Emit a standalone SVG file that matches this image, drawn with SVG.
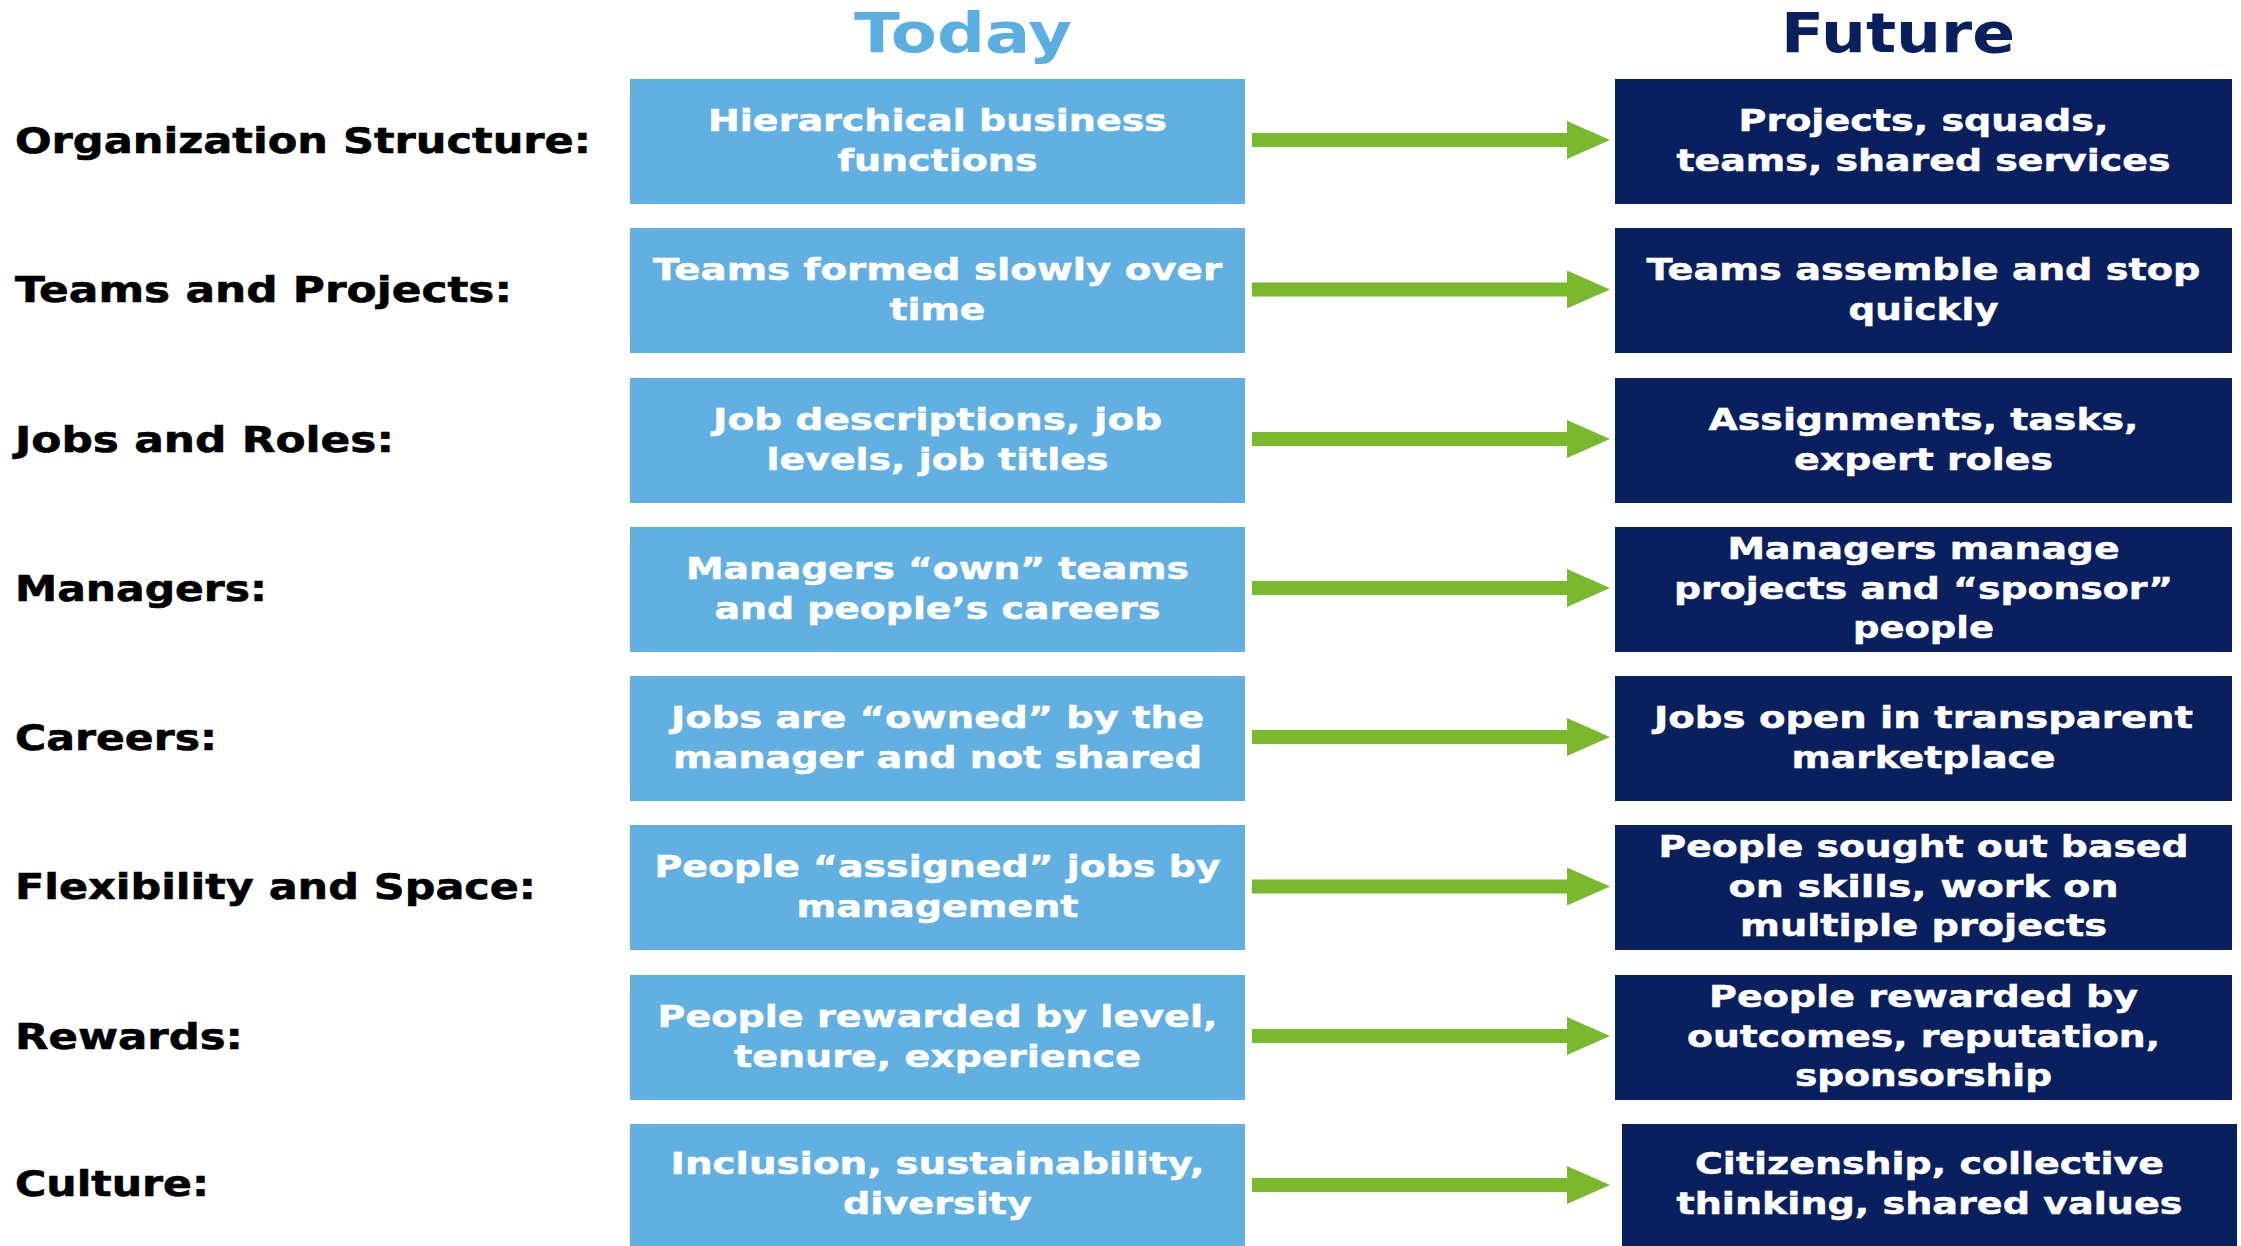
<svg xmlns="http://www.w3.org/2000/svg" width="2241" height="1246" viewBox="0 0 2241 1246">
<defs>
<style>
.lbl{font-family:"DejaVu Sans","Liberation Sans",sans-serif;font-weight:bold;font-size:36px;fill:#000;stroke:#000;stroke-width:0.6px}
.t{font-family:"DejaVu Sans","Liberation Sans",sans-serif;font-weight:bold;font-size:31px;fill:#fff;stroke:#fff;stroke-width:0.5px;text-anchor:middle}
.today{fill:#62B0E2}
.future{fill:#0A1F5E}
.title{font-family:"DejaVu Sans","Liberation Sans",sans-serif;font-weight:bold;font-size:55px;text-anchor:middle}
.arr{stroke:#7AB82D;stroke-width:14;fill:none}
</style>
<marker id="ah" markerUnits="userSpaceOnUse" markerWidth="43" markerHeight="38" viewBox="0 0 43 38" refX="0" refY="19" orient="auto">
<path d="M0,0 L43,19 L0,38 Z" fill="#7AB82D"/>
</marker>
</defs>
<rect width="2241" height="1246" fill="#fff"/>
<g id="titles">
<text class="title" x="963" y="52" fill="#5AAEE0" textLength="218" lengthAdjust="spacingAndGlyphs">Today</text>
<text class="title" x="1898" y="52" fill="#0A1F5E" textLength="234" lengthAdjust="spacingAndGlyphs">Future</text>
</g>
<g id="labels">
<text class="lbl" x="15" y="153" textLength="576" lengthAdjust="spacingAndGlyphs">Organization Structure:</text>
<text class="lbl" x="15" y="302" textLength="497" lengthAdjust="spacingAndGlyphs">Teams and Projects:</text>
<text class="lbl" x="15" y="452" textLength="379" lengthAdjust="spacingAndGlyphs">Jobs and Roles:</text>
<text class="lbl" x="15" y="601" textLength="252" lengthAdjust="spacingAndGlyphs">Managers:</text>
<text class="lbl" x="15" y="750" textLength="202" lengthAdjust="spacingAndGlyphs">Careers:</text>
<text class="lbl" x="15" y="899" textLength="521" lengthAdjust="spacingAndGlyphs">Flexibility and Space:</text>
<text class="lbl" x="15" y="1049" textLength="228" lengthAdjust="spacingAndGlyphs">Rewards:</text>
<text class="lbl" x="15" y="1196" textLength="194" lengthAdjust="spacingAndGlyphs">Culture:</text>
</g>
<g id="today-1"><rect class="today" x="630" y="79" width="615" height="125"/>
<text class="t" x="937.5" y="131" textLength="459" lengthAdjust="spacingAndGlyphs">Hierarchical business</text>
<text class="t" x="937.5" y="171" textLength="200" lengthAdjust="spacingAndGlyphs">functions</text></g>
<g id="today-2"><rect class="today" x="630" y="228" width="615" height="125"/>
<text class="t" x="937.5" y="280" textLength="569" lengthAdjust="spacingAndGlyphs">Teams formed slowly over</text>
<text class="t" x="937.5" y="320" textLength="96" lengthAdjust="spacingAndGlyphs">time</text></g>
<g id="today-3"><rect class="today" x="630" y="378" width="615" height="125"/>
<text class="t" x="937.5" y="430" textLength="449" lengthAdjust="spacingAndGlyphs">Job descriptions, job</text>
<text class="t" x="937.5" y="470" textLength="342" lengthAdjust="spacingAndGlyphs">levels, job titles</text></g>
<g id="today-4"><rect class="today" x="630" y="527" width="615" height="125"/>
<text class="t" x="937.5" y="579" textLength="503" lengthAdjust="spacingAndGlyphs">Managers “own” teams</text>
<text class="t" x="937.5" y="619" textLength="446" lengthAdjust="spacingAndGlyphs">and people’s careers</text></g>
<g id="today-5"><rect class="today" x="630" y="676" width="615" height="125"/>
<text class="t" x="937.5" y="728" textLength="533" lengthAdjust="spacingAndGlyphs">Jobs are “owned” by the</text>
<text class="t" x="937.5" y="768" textLength="529" lengthAdjust="spacingAndGlyphs">manager and not shared</text></g>
<g id="today-6"><rect class="today" x="630" y="825" width="615" height="125"/>
<text class="t" x="937.5" y="877" textLength="566" lengthAdjust="spacingAndGlyphs">People “assigned” jobs by</text>
<text class="t" x="937.5" y="917" textLength="282" lengthAdjust="spacingAndGlyphs">management</text></g>
<g id="today-7"><rect class="today" x="630" y="975" width="615" height="125"/>
<text class="t" x="937.5" y="1027" textLength="560" lengthAdjust="spacingAndGlyphs">People rewarded by level,</text>
<text class="t" x="937.5" y="1067" textLength="407" lengthAdjust="spacingAndGlyphs">tenure, experience</text></g>
<g id="today-8"><rect class="today" x="630" y="1124" width="615" height="122"/>
<text class="t" x="937.5" y="1174" textLength="534" lengthAdjust="spacingAndGlyphs">Inclusion, sustainability,</text>
<text class="t" x="937.5" y="1214" textLength="189" lengthAdjust="spacingAndGlyphs">diversity</text></g>
<g id="future-1"><rect class="future" x="1615" y="79" width="617" height="125"/>
<text class="t" x="1923.5" y="131" textLength="370" lengthAdjust="spacingAndGlyphs">Projects, squads,</text>
<text class="t" x="1923.5" y="171" textLength="494" lengthAdjust="spacingAndGlyphs">teams, shared services</text></g>
<g id="future-2"><rect class="future" x="1615" y="228" width="617" height="125"/>
<text class="t" x="1923.5" y="280" textLength="554" lengthAdjust="spacingAndGlyphs">Teams assemble and stop</text>
<text class="t" x="1923.5" y="320" textLength="150" lengthAdjust="spacingAndGlyphs">quickly</text></g>
<g id="future-3"><rect class="future" x="1615" y="378" width="617" height="125"/>
<text class="t" x="1923.5" y="430" textLength="430" lengthAdjust="spacingAndGlyphs">Assignments, tasks,</text>
<text class="t" x="1923.5" y="470" textLength="259" lengthAdjust="spacingAndGlyphs">expert roles</text></g>
<g id="future-4"><rect class="future" x="1615" y="527" width="617" height="125"/>
<text class="t" x="1923.5" y="559" textLength="392" lengthAdjust="spacingAndGlyphs">Managers manage</text>
<text class="t" x="1923.5" y="599" textLength="499" lengthAdjust="spacingAndGlyphs">projects and “sponsor”</text>
<text class="t" x="1923.5" y="638" textLength="141" lengthAdjust="spacingAndGlyphs">people</text></g>
<g id="future-5"><rect class="future" x="1615" y="676" width="617" height="125"/>
<text class="t" x="1923.5" y="728" textLength="539" lengthAdjust="spacingAndGlyphs">Jobs open in transparent</text>
<text class="t" x="1923.5" y="768" textLength="264" lengthAdjust="spacingAndGlyphs">marketplace</text></g>
<g id="future-6"><rect class="future" x="1615" y="825" width="617" height="125"/>
<text class="t" x="1923.5" y="857" textLength="530" lengthAdjust="spacingAndGlyphs">People sought out based</text>
<text class="t" x="1923.5" y="897" textLength="390" lengthAdjust="spacingAndGlyphs">on skills, work on</text>
<text class="t" x="1923.5" y="936" textLength="367" lengthAdjust="spacingAndGlyphs">multiple projects</text></g>
<g id="future-7"><rect class="future" x="1615" y="975" width="617" height="125"/>
<text class="t" x="1923.5" y="1007" textLength="429" lengthAdjust="spacingAndGlyphs">People rewarded by</text>
<text class="t" x="1923.5" y="1047" textLength="473" lengthAdjust="spacingAndGlyphs">outcomes, reputation,</text>
<text class="t" x="1923.5" y="1086" textLength="257" lengthAdjust="spacingAndGlyphs">sponsorship</text></g>
<g id="future-8"><rect class="future" x="1622" y="1124" width="615" height="122"/>
<text class="t" x="1929.5" y="1174" textLength="469" lengthAdjust="spacingAndGlyphs">Citizenship, collective</text>
<text class="t" x="1929.5" y="1214" textLength="506" lengthAdjust="spacingAndGlyphs">thinking, shared values</text></g>
<g id="connectors">
<path class="arr" d="M1252,140 H1567" marker-end="url(#ah)"/>
<path class="arr" d="M1252,289.5 H1567" marker-end="url(#ah)"/>
<path class="arr" d="M1252,439 H1567" marker-end="url(#ah)"/>
<path class="arr" d="M1252,588 H1567" marker-end="url(#ah)"/>
<path class="arr" d="M1252,737 H1567" marker-end="url(#ah)"/>
<path class="arr" d="M1252,886.5 H1567" marker-end="url(#ah)"/>
<path class="arr" d="M1252,1036 H1567" marker-end="url(#ah)"/>
<path class="arr" d="M1252,1185 H1567" marker-end="url(#ah)"/>
</g>
</svg>
